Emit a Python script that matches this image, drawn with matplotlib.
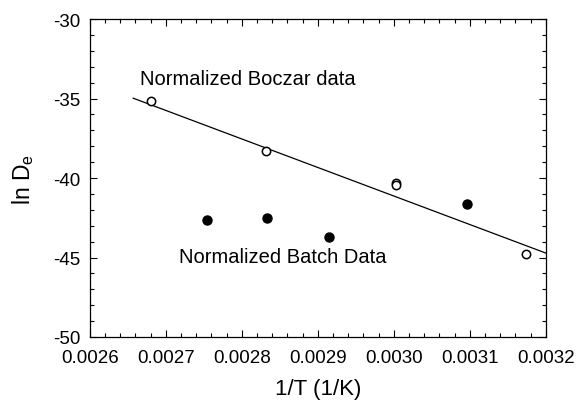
import matplotlib
matplotlib.use("Agg")
import matplotlib.pyplot as plt
from matplotlib.ticker import MultipleLocator, FormatStrFormatter

plt.rcParams['font.family'] = ['Liberation Sans', 'DejaVu Sans']
plt.rcParams['axes.unicode_minus'] = False
plt.rcParams['mathtext.fontset'] = 'custom'
plt.rcParams['mathtext.rm'] = 'Liberation Sans'

# Normalized Boczar data (open circles)
boczar_x = [0.002680, 0.002832, 0.003003, 0.003003, 0.003174]
boczar_y = [-35.15, -38.28, -40.33, -40.47, -44.78]

# Normalized batch data (filled circles)
batch_x = [0.002754, 0.002833, 0.002915, 0.003096]
batch_y = [-42.62, -42.52, -43.69, -41.62]

# Arrhenius fit line endpoints
fit_x = [0.002657, 0.003200]
fit_y = [-34.98, -44.72]

fig = plt.figure(figsize=(5.8, 4.06), dpi=100)
ax = fig.add_axes([0.155, 0.1675, 0.786, 0.7832])

ax.plot(fit_x, fit_y, color='black', lw=0.9)
ax.plot(boczar_x, boczar_y, 'o', mfc='white', mec='black', ms=6, mew=1.1)
ax.plot(batch_x, batch_y, 'o', mfc='black', mec='black', ms=6.5)

ax.set_xlim(0.0026, 0.0032)
ax.set_ylim(-50, -30)
ax.xaxis.set_major_locator(MultipleLocator(0.0001))
ax.xaxis.set_minor_locator(MultipleLocator(0.00002))
ax.yaxis.set_major_locator(MultipleLocator(5))
ax.yaxis.set_minor_locator(MultipleLocator(1))
ax.xaxis.set_major_formatter(FormatStrFormatter('%.4f'))

ax.tick_params(which='both', direction='in', top=True, right=True,
               labelsize=13.5, width=0.8, colors='black')
ax.tick_params(which='major', length=5)
ax.tick_params(axis='x', which='major', pad=9)
ax.tick_params(axis='y', which='major', pad=7)
ax.tick_params(which='minor', length=3)
for s in ax.spines.values():
    s.set_linewidth(0.9)

ax.set_xlabel('1/T (1/K)', fontsize=16, labelpad=8)
ax.set_ylabel(r'ln D$_\mathregular{e}$', fontsize=16.5, labelpad=12)

ax.text(0.002666, -34.09, 'Normalized Boczar data', fontsize=14.5)
ax.text(0.002717, -45.28, 'Normalized Batch Data', fontsize=14.5)

fig.savefig('out.png', dpi=100)
